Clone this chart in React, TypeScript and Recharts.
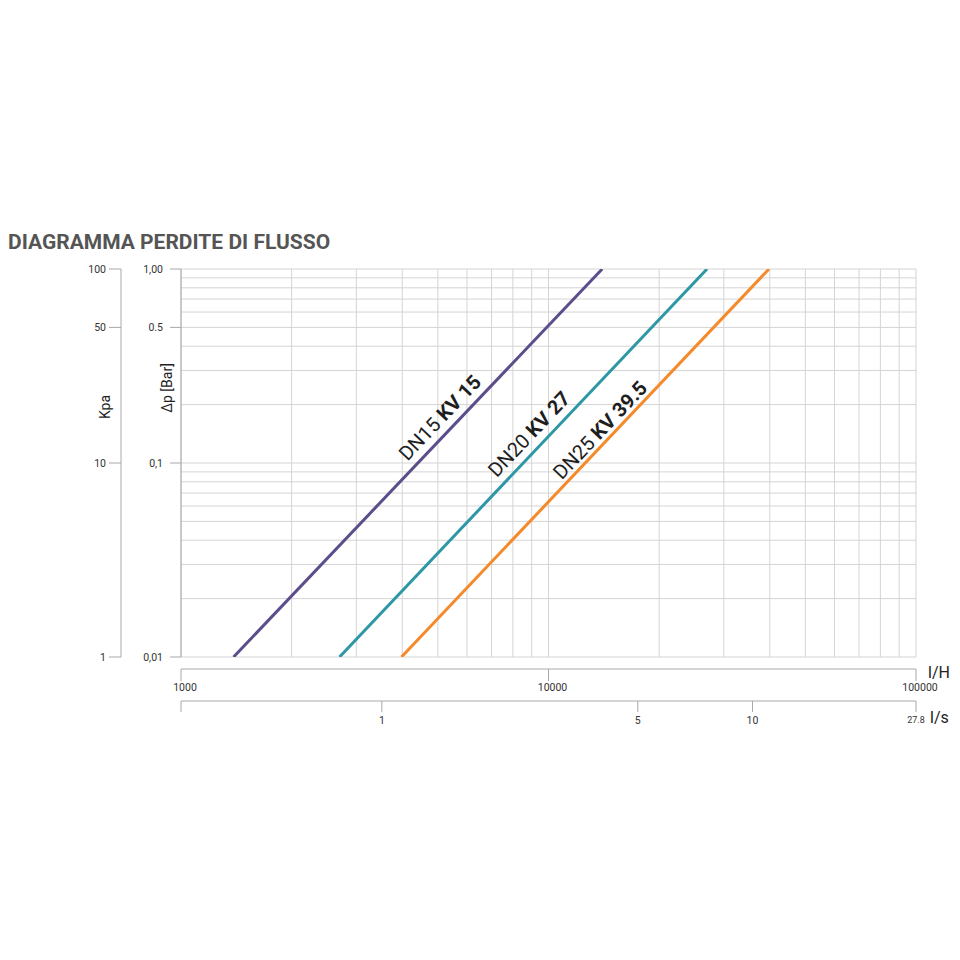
import React from 'react';
import { LineChart, Line, XAxis, YAxis, CartesianGrid, ReferenceDot } from 'recharts';

// ---- data (flow in l/H, pressure drop in bar) ----
const dn15Flow = [1390, 14000];
const dn15Dp = [0.01, 1.0];
const dn20Flow = [2700, 27000];
const dn20Dp = [0.01, 1.0];
const dn25Flow = [3980, 39800];
const dn25Dp = [0.01, 1.0];

const seriesNames = ['DN15', 'DN20', 'DN25'];
const seriesKv = ['KV 15', 'KV 27', 'KV 39.5'];
const seriesColors = ['#5c4d8b', '#2d97a6', '#f58a2b'];
// label anchor points on each line (data coordinates)
const labelFlow = [5420, 9500, 14590];
const labelDp = [0.1515, 0.1243, 0.134];

const xGridTicks = [
  1000, 2000, 3000, 4000, 5000, 6000, 7000, 8000, 9000,
  10000, 20000, 30000, 40000, 50000, 60000, 70000, 80000, 90000, 100000,
];
const yGridTicks = [
  0.01, 0.02, 0.03, 0.04, 0.05, 0.06, 0.07, 0.08, 0.09,
  0.1, 0.2, 0.3, 0.4, 0.5, 0.6, 0.7, 0.8, 0.9, 1,
];
const lhTicks = [1000, 10000, 100000];
const lsTickPos = [1000, 3520, 17500, 35900, 100000];
const lsTickLabels = ['', '1', '5', '10', '27.8'];
const kpaTicks = [1, 10, 50, 100];
const dpTicks = [0.01, 0.1, 0.5, 1];
const dpTickLabels: Record<string, string> = { '0.01': '0,01', '0.1': '0,1', '0.5': '0.5', '1': '1,00' };

const toPoints = (flow: number[], dp: number[]) => flow.map((q, i) => ({ q, dp: dp[i] }));
const seriesData = [toPoints(dn15Flow, dn15Dp), toPoints(dn20Flow, dn20Dp), toPoints(dn25Flow, dn25Dp)];
const labelOffsets = [-8, -8.5, -5];

const FONT = 'Roboto, "Noto Sans", sans-serif';
const AXIS = '#a8a8a8';
const GRID = '#d4d4d4';

const EmptyTick = () => <g />;

const LsTick = (props: any) => {
  const { x, y, payload } = props;
  const i = lsTickPos.indexOf(payload.value);
  const label = i >= 0 ? lsTickLabels[i] : '';
  return (
    <text x={x} y={y} dy="0.71em" textAnchor="middle" fontSize={label === '27.8' ? 9 : 10.5} fill="#333" fontFamily={FONT}>
      {label}
    </text>
  );
};

const makeLabel = (i: number) => (props: any) => {
  const { cx, cy } = props;
  return (
    <text
      transform={`translate(${cx},${cy}) rotate(-46.5)`}
      y={labelOffsets[i]}
      textAnchor="middle"
      fontSize={20}
      fill="#1e1e1e"
      fontFamily={FONT}
    >
      <tspan>{seriesNames[i]} </tspan>
      <tspan fontWeight="bold">{seriesKv[i]}</tspan>
    </text>
  );
};

export default function App() {
  return (
    <div style={{ position: 'absolute', left: 0, top: 0, width: 960, height: 960, background: '#fff' }}>
      <div
        style={{
          position: 'absolute',
          left: 8,
          top: 232,
          fontFamily: FONT,
          fontWeight: 700,
          fontSize: 21,
          lineHeight: '21px',
          color: '#555',
          whiteSpace: 'nowrap',
        }}
      >
        DIAGRAMMA PERDITE DI FLUSSO
      </div>
      <LineChart width={960} height={960} margin={{ top: 269, right: 44, left: 61, bottom: 219 }}>
        <XAxis
          xAxisId="grid"
          dataKey="q"
          type="number"
          scale="log"
          domain={[1000, 100000]}
          allowDataOverflow
          ticks={xGridTicks}
          interval={0}
          tick={<EmptyTick />}
          tickLine={false}
          axisLine={false}
          height={12}
        />
        <XAxis
          xAxisId="lh"
          dataKey="q"
          type="number"
          scale="log"
          domain={[1000, 100000]}
          allowDataOverflow
          ticks={lhTicks}
          interval={0}
          height={32}
          tickSize={12}
          tickMargin={3}
          stroke={AXIS}
          tick={{ fill: '#333', fontSize: 10.5, fontFamily: FONT, dx: 4 }}
          label={{ value: 'l/H', position: 'right', offset: 12, dy: -13, fontSize: 16, fill: '#222', fontFamily: FONT }}
        />
        <XAxis
          xAxisId="ls"
          dataKey="q"
          type="number"
          scale="log"
          domain={[1000, 100000]}
          allowDataOverflow
          ticks={lsTickPos}
          interval={0}
          height={40}
          tickSize={11}
          tickMargin={5}
          stroke={AXIS}
          tick={<LsTick />}
          label={{ value: 'l/s', position: 'right', offset: 14, dy: -4, fontSize: 16, fill: '#222', fontFamily: FONT }}
        />
        <YAxis
          yAxisId="grid"
          dataKey="dp"
          type="number"
          scale="log"
          domain={[0.01, 1]}
          allowDataOverflow
          ticks={yGridTicks}
          interval={0}
          tick={<EmptyTick />}
          tickLine={false}
          axisLine={false}
          width={10}
        />
        <YAxis
          yAxisId="dp"
          type="number"
          scale="log"
          domain={[0.01, 1]}
          allowDataOverflow
          ticks={dpTicks}
          interval={0}
          width={50}
          tickSize={11}
          tickMargin={7}
          stroke={AXIS}
          tickFormatter={(v: number) => dpTickLabels[String(v)] ?? String(v)}
          tick={{ fill: '#333', fontSize: 10.5, fontFamily: FONT }}
          label={{ value: 'Δp [Bar]', angle: -90, position: 'center', dx: 11, dy: -75, fontSize: 14, fill: '#222', fontFamily: FONT }}
        />
        <YAxis
          yAxisId="kpa"
          type="number"
          scale="log"
          domain={[1, 100]}
          allowDataOverflow
          ticks={kpaTicks}
          interval={0}
          width={60}
          tickSize={12}
          tickMargin={3}
          stroke={AXIS}
          tick={{ fill: '#333', fontSize: 10.5, fontFamily: FONT }}
          label={{ value: 'Kpa', angle: -90, position: 'center', dx: 14, dy: -56, fontSize: 14, fill: '#222', fontFamily: FONT }}
        />
        <CartesianGrid xAxisId="grid" yAxisId="grid" stroke={GRID} strokeWidth={1} syncWithTicks />
        {seriesData.map((d, i) => (
          <Line
            key={seriesNames[i]}
            xAxisId="grid"
            yAxisId="grid"
            data={d}
            dataKey="dp"
            stroke={seriesColors[i]}
            strokeWidth={3}
            dot={false}
            activeDot={false}
            isAnimationActive={false}
          />
        ))}
        {seriesNames.map((n, i) => (
          <ReferenceDot
            key={'lbl' + n}
            xAxisId="grid"
            yAxisId="grid"
            x={labelFlow[i]}
            y={labelDp[i]}
            r={1}
            shape={makeLabel(i)}
          />
        ))}
      </LineChart>
    </div>
  );
}
